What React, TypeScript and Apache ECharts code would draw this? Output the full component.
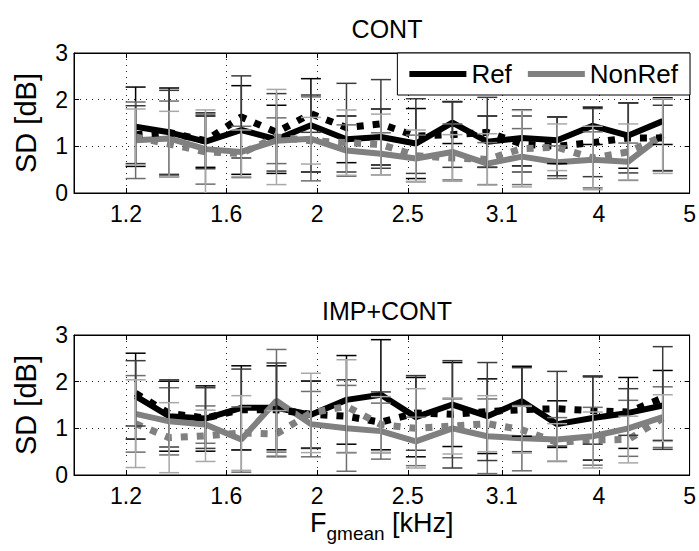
import React, { useEffect, useRef } from "react";
import * as echarts from "echarts";

// ---------- data ----------
const freqs = [1.28, 1.39, 1.52, 1.66, 1.81, 1.97, 2.15, 2.34, 2.55, 2.79, 3.04, 3.31, 3.61, 3.94, 4.3, 4.68];
const tickFreqs = [1.25, 1.6, 2, 2.5, 3.15, 4, 5];
const tickLabels = ["1.2", "1.6", "2", "2.5", "3.1", "4", "5"];
const yTicks = [0, 1, 2, 3];

// CONT
const contRef = [1.42, 1.3, 1.1, 1.35, 1.15, 1.45, 1.15, 1.2, 1.06, 1.51, 1.1, 1.18, 1.13, 1.44, 1.23, 1.54];
const contRefErr = [0.85, 0.95, 0.55, 0.95, 0.73, 1.0, 0.5, 0.6, 0.75, 0.45, 0.55, 0.6, 0.5, 0.4, 0.7, 0.5];
const contNonRef = [1.13, 1.17, 0.94, 0.88, 1.12, 1.16, 0.91, 0.84, 0.74, 0.88, 0.63, 0.78, 0.66, 0.71, 0.67, 1.24];
const contNonRefErr = [0.82, 0.8, 0.75, 0.55, 0.49, 0.9, 0.55, 0.45, 0.5, 0.6, 0.45, 0.6, 0.35, 0.6, 0.4, 0.77];
const contRefD = [1.25, 1.3, 1.12, 1.63, 1.3, 1.7, 1.4, 1.48, 1.22, 1.25, 1.3, 1.05, 1.0, 1.08, 1.18, 1.18];
const contRefDErr = [0.62, 0.9, 0.6, 0.88, 0.83, 0.4, 0.95, 0.95, 0.8, 0.7, 0.75, 0.6, 0.63, 0.73, 0.75, 0.7];
const contNonRefD = [1.2, 1.05, 0.88, 0.85, 1.2, 1.12, 1.08, 1.04, 0.8, 0.75, 0.72, 0.95, 0.98, 0.75, 0.88, 1.22];
const contNonRefDErr = [0.6, 0.7, 0.9, 0.5, 1.02, 0.5, 0.7, 0.65, 0.55, 0.5, 0.55, 0.82, 0.5, 0.68, 0.6, 0.8];

// IMP+CONT
const impRef = [1.69, 1.26, 1.21, 1.44, 1.44, 1.29, 1.61, 1.72, 1.24, 1.51, 1.26, 1.58, 1.09, 1.22, 1.33, 1.49];
const impRefErr = [0.92, 0.75, 0.7, 0.9, 0.9, 0.72, 0.95, 1.18, 0.85, 0.9, 0.8, 0.75, 0.5, 0.9, 0.76, 0.75];
const impNonRef = [1.31, 1.15, 1.08, 0.76, 1.59, 1.09, 1.0, 0.94, 0.72, 1.0, 0.83, 0.79, 0.76, 0.83, 1.0, 1.24];
const impNonRefErr = [0.82, 0.72, 0.4, 0.7, 1.1, 0.7, 0.92, 0.6, 0.52, 0.63, 0.8, 0.7, 0.47, 0.62, 0.6, 0.65];
const impRefD = [1.75, 1.32, 1.22, 1.4, 1.4, 1.3, 1.26, 1.13, 1.33, 1.3, 1.36, 1.4, 1.42, 1.38, 1.35, 1.65];
const impRefDErr = [0.7, 0.72, 0.65, 0.87, 1.0, 0.72, 0.78, 0.65, 0.8, 1.15, 1.05, 0.9, 0.8, 0.72, 0.5, 1.1];
const impNonRefD = [1.1, 0.8, 0.84, 0.9, 0.88, 1.33, 1.47, 1.08, 1.0, 1.05, 1.1, 0.97, 0.7, 0.75, 0.76, 1.22];
const impNonRefDErr = [0.94, 0.75, 0.55, 0.8, 0.5, 0.85, 1.0, 0.6, 0.85, 0.6, 0.6, 0.5, 0.4, 0.6, 0.5, 0.5];

const FONT = "'Liberation Sans', Arial, Helvetica, sans-serif";

const xMin = Math.log2(1.1);
const xMax = Math.log2(5);
const tickLogs = tickFreqs.map((f) => Math.log2(f));

function fmtTick(v: number) {
  for (let i = 0; i < tickLogs.length; i++) {
    if (Math.abs(tickLogs[i] - v) < 1e-6) return tickLabels[i];
  }
  return "";
}

function lineData(vals: number[]) {
  return vals.map((v, i) => [Math.log2(freqs[i]), v]);
}
function errData(vals: number[], errs: number[]) {
  return vals.map((v, i) => [Math.log2(freqs[i]), v, errs[i]]);
}

function errorSeries(name: string, vals: number[], errs: number[], color: string, gi: number) {
  return {
    type: "custom",
    name,
    xAxisIndex: gi * 2,
    yAxisIndex: gi * 2,
    z: 5,
    data: errData(vals, errs),
    encode: { x: 0, y: 1 },
    renderItem: (params: any, api: any) => {
      const x = api.value(0);
      const y = api.value(1);
      const e = api.value(2);
      const hiV = Math.min(3, y + e);
      const loV = Math.max(0, y - e);
      const top = api.coord([x, hiV]);
      const bot = api.coord([x, loV]);
      const hw = 10;
      const style = { stroke: color, lineWidth: 1.5 };
      const children: any[] = [
        { type: "line", shape: { x1: top[0], y1: top[1], x2: bot[0], y2: bot[1] }, style },
      ];
      if (y + e <= 3) children.push({ type: "line", shape: { x1: top[0] - hw, y1: top[1], x2: top[0] + hw, y2: top[1] }, style });
      if (y - e >= 0) children.push({ type: "line", shape: { x1: bot[0] - hw, y1: bot[1], x2: bot[0] + hw, y2: bot[1] }, style });
      return { type: "group", children };
    },
  };
}

function lineSeries(name: string, vals: number[], color: string, dashed: boolean, gi: number) {
  return {
    type: "line",
    name,
    xAxisIndex: gi * 2,
    yAxisIndex: gi * 2,
    data: lineData(vals),
    symbol: "none",
    color,
    z: 3,
    lineStyle: { color, width: dashed ? 7 : 6, type: dashed ? [7, 9] : "solid", cap: "butt" },
  };
}

const BLACK = "#000000";
const GRAY = "#808080";

function buildOption() {
  const grids = [
    { left: 74, top: 53, width: 616, height: 140 },
    { left: 74, top: 335, width: 616, height: 140 },
  ];
  const xAxes: any[] = [];
  const yAxes: any[] = [];
  grids.forEach((_, gi) => {
    xAxes.push({
      gridIndex: gi,
      type: "value",
      min: xMin,
      max: xMax,
      axisLine: { show: true, onZero: false, lineStyle: { color: "#000", width: 1 } },
      axisTick: { show: true, inside: true, length: 5, customValues: tickLogs, lineStyle: { color: "#000" } },
      axisLabel: {
        show: true,
        customValues: tickLogs,
        formatter: (v: number) => fmtTick(v),
        fontSize: 23,
        color: "#000",
        fontFamily: FONT,
        margin: 9,
      },
      splitLine: { show: true, lineStyle: { color: "#222", width: 1, type: [1, 5] } },
      ...(gi === 1
        ? {
            name: "{a|F}{b|gmean}{a| [kHz]}",
            nameLocation: "middle",
            nameGap: 34,
            nameTextStyle: {
              color: "#000",
              fontFamily: FONT,
              rich: {
                a: { fontSize: 27, fontFamily: FONT, color: "#000", lineHeight: 28, verticalAlign: "top" },
                b: { fontSize: 19, fontFamily: FONT, color: "#000", lineHeight: 19, padding: [15, 0, 0, 0], verticalAlign: "top" },
              },
            },
          }
        : {}),
    });
    xAxes.push({
      gridIndex: gi,
      type: "value",
      position: "top",
      min: xMin,
      max: xMax,
      axisLine: { show: true, onZero: false, lineStyle: { color: "#000", width: 1 } },
      axisTick: { show: true, inside: true, length: 5, customValues: tickLogs, lineStyle: { color: "#000" } },
      axisLabel: { show: false },
      splitLine: { show: false },
    });
    yAxes.push({
      gridIndex: gi,
      type: "value",
      min: yTicks[0],
      max: yTicks[yTicks.length - 1],
      interval: 1,
      axisLine: { show: true, onZero: false, lineStyle: { color: "#000", width: 1 } },
      axisTick: { show: true, inside: true, length: 5, lineStyle: { color: "#000" } },
      axisLabel: { fontSize: 23, color: "#000", fontFamily: FONT, margin: 6 },
      splitLine: { show: true, lineStyle: { color: "#222", width: 1, type: [1, 5] } },
      name: "SD [dB]",
      nameLocation: "middle",
      nameRotate: 90,
      nameGap: 34,
      nameTextStyle: { fontSize: 29, color: "#000", fontFamily: FONT },
    });
    yAxes.push({
      gridIndex: gi,
      type: "value",
      position: "right",
      min: 0,
      max: 3,
      interval: 1,
      axisLine: { show: true, onZero: false, lineStyle: { color: "#000", width: 1 } },
      axisTick: { show: true, inside: true, length: 5, lineStyle: { color: "#000" } },
      axisLabel: { show: false },
      splitLine: { show: false },
    });
  });

  const series: any[] = [
    lineSeries("Ref", contRef, BLACK, false, 0),
    lineSeries("NonRef", contNonRef, GRAY, false, 0),
    lineSeries("Ref dashed", contRefD, BLACK, true, 0),
    lineSeries("NonRef dashed", contNonRefD, GRAY, true, 0),
    errorSeries("Ref err", contRef, contRefErr, "#000000", 0),
    errorSeries("NonRef err", contNonRef, contNonRefErr, "#6e6e6e", 0),
    errorSeries("Ref dashed err", contRefD, contRefDErr, "#3c3c3c", 0),
    errorSeries("NonRef dashed err", contNonRefD, contNonRefDErr, "#a8a8a8", 0),
    lineSeries("Ref (IMP+CONT)", impRef, BLACK, false, 1),
    lineSeries("NonRef (IMP+CONT)", impNonRef, GRAY, false, 1),
    lineSeries("Ref dashed (IMP+CONT)", impRefD, BLACK, true, 1),
    lineSeries("NonRef dashed (IMP+CONT)", impNonRefD, GRAY, true, 1),
    errorSeries("Ref err 2", impRef, impRefErr, "#000000", 1),
    errorSeries("NonRef err 2", impNonRef, impNonRefErr, "#6e6e6e", 1),
    errorSeries("Ref dashed err 2", impRefD, impRefDErr, "#3c3c3c", 1),
    errorSeries("NonRef dashed err 2", impNonRefD, impNonRefDErr, "#a8a8a8", 1),
  ];

  return {
    animation: false,
    backgroundColor: "#ffffff",
    textStyle: { fontFamily: FONT },
    title: [
      { text: "CONT", left: 382, top: 11, textAlign: "center", textStyle: { fontSize: 25, fontWeight: "normal", color: "#000", fontFamily: FONT } },
      { text: "IMP+CONT", left: 382, top: 293, textAlign: "center", textStyle: { fontSize: 25, fontWeight: "normal", color: "#000", fontFamily: FONT } },
    ],
    legend: {
      data: ["Ref", "NonRef"],
      right: 9,
      top: 53,
      orient: "horizontal",
      icon: "rect",
      itemWidth: 57,
      itemHeight: 6,
      itemGap: 16,
      padding: [8, 12, 8, 12],
      backgroundColor: "#ffffff",
      borderColor: "#000000",
      borderWidth: 1,
      borderRadius: 0,
      textStyle: { fontSize: 26, color: "#000", fontFamily: FONT },
      selectedMode: false,
      z: 10,
    },
    grid: grids.map((g) => ({ ...g, show: true, borderColor: "#000", borderWidth: 1, backgroundColor: "#fff" })),
    xAxis: xAxes,
    yAxis: yAxes,
    series,
  };
}

export default function App() {
  const ref = useRef<HTMLDivElement>(null);
  useEffect(() => {
    if (!ref.current) return;
    const chart = echarts.init(ref.current, undefined, { renderer: "svg" });
    chart.setOption(buildOption() as any);
    return () => chart.dispose();
  }, []);
  return <div ref={ref} style={{ position: "fixed", left: 0, top: 0, width: 699, height: 551, background: "#fff" }} />;
}
